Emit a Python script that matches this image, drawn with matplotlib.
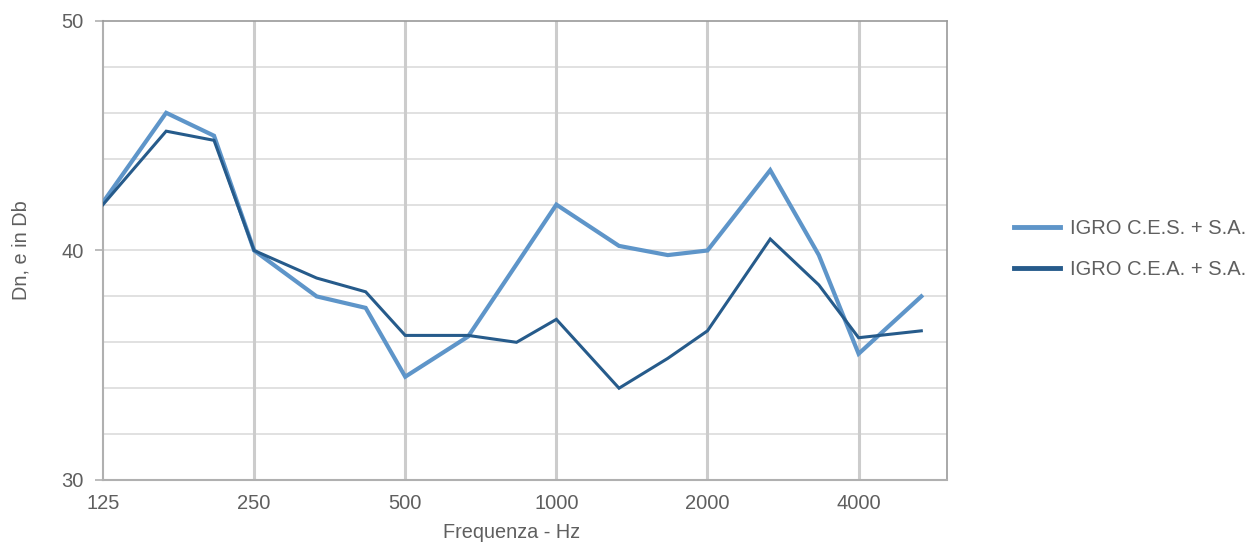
import matplotlib
matplotlib.use("Agg")
import matplotlib.pyplot as plt
from matplotlib.ticker import FixedLocator, MultipleLocator, NullFormatter, NullLocator

# ---- data ----
freq_hz = [125, 167, 208, 250, 333, 417, 500, 667, 833, 1000,
           1333, 1667, 2000, 2667, 3333, 4000, 5333]
ces_sa = [42.1, 46.0, 45.0, 40.0, 38.0, 37.5, 34.5, 36.25, 39.4, 42.0,
          40.2, 39.8, 40.0, 43.5, 39.8, 35.5, 38.0]
cea_sa = [42.0, 45.2, 44.8, 40.0, 38.8, 38.2, 36.3, 36.3, 36.0, 37.0,
          34.0, 35.3, 36.5, 40.5, 38.5, 36.2, 36.5]
series_names = ["IGRO C.E.S. + S.A.", "IGRO C.E.A. + S.A."]
x_ticks = [125, 250, 500, 1000, 2000, 4000]
x_tick_labels = ["125", "250", "500", "1000", "2000", "4000"]
y_ticks = [30, 40, 50]

plt.rcParams["font.family"] = ["Liberation Sans", "DejaVu Sans"]
text_color = "#5f5f5f"

fig = plt.figure(figsize=(12.49, 5.45), dpi=100)
ax = fig.add_axes([103 / 1249, 1 - 480 / 545, (947 - 103) / 1249, (480 - 21) / 545])

ax.set_xscale("log", base=2)
ax.set_xlim(125, 6000)
ax.set_ylim(30, 50)

ax.xaxis.set_major_locator(FixedLocator(x_ticks))
ax.xaxis.set_minor_locator(NullLocator())
ax.xaxis.set_minor_formatter(NullFormatter())
ax.set_xticklabels(x_tick_labels)
ax.yaxis.set_major_locator(FixedLocator(y_ticks))
ax.yaxis.set_minor_locator(MultipleLocator(2))

for y in range(32, 50, 2):
    ax.axhline(y, color="#d9d9d9", lw=1.1, zorder=0)
for x in x_ticks[1:]:
    ax.axvline(x, color="#cccccc", lw=2.2, zorder=0)

ax.plot(freq_hz, ces_sa, color="#5e95c9", lw=3.0, label=series_names[0],
        solid_joinstyle="miter", zorder=3)
ax.plot(freq_hz, cea_sa, color="#265b8b", lw=2.2, label=series_names[1],
        solid_joinstyle="miter", zorder=4)

for side in ["left", "bottom"]:
    ax.spines[side].set_color("#b0b0b0")
    ax.spines[side].set_linewidth(1.5)
for side in ["top", "right"]:
    ax.spines[side].set_color("#9a9a9a")
    ax.spines[side].set_linewidth(1.2)

ax.tick_params(axis="y", which="major", length=6, width=1.2, color="#b0b0b0",
               labelsize=14.5, labelcolor=text_color, pad=8)
ax.tick_params(axis="y", which="minor", length=0)
ax.tick_params(axis="x", which="major", length=0, labelsize=14.5,
               labelcolor=text_color, pad=10)

ax.set_xlabel("Frequenza - Hz", fontsize=14.3, color=text_color, labelpad=7)
ax.xaxis.label.set_x((512 - 103) / (947 - 103))
ax.set_ylabel("Dn, e in Db", fontsize=14.3, color=text_color, labelpad=22)

fig.legend(loc="center left", bbox_to_anchor=(996 / 1249, 1 - 249 / 545),
           frameon=False, fontsize=14.5, labelcolor=text_color,
           handlelength=2.3, handletextpad=0.45, labelspacing=1.05)
for line in fig.legends[0].get_lines():
    line.set_linewidth(3.5)

fig.savefig("out.png", dpi=100)
